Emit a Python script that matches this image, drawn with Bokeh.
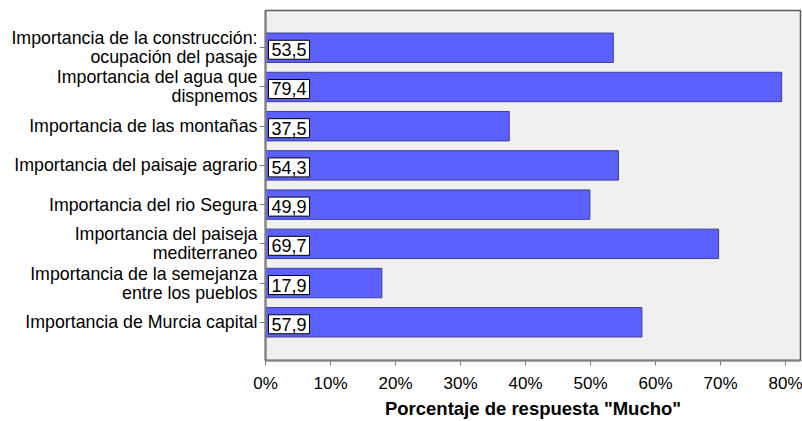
from bokeh.plotting import figure
from bokeh.models import Range1d, FixedTicker, ColumnDataSource
from bokeh.embed import file_html
from bokeh.resources import INLINE
from bokeh.core.properties import value

categories = [
    "Importancia de la construcción:\nocupación del pasaje",
    "Importancia del agua que\ndispnemos",
    "Importancia de las montañas",
    "Importancia del paisaje agrario",
    "Importancia del rio Segura",
    "Importancia del paiseja\nmediterraneo",
    "Importancia de la semejanza\nentre los pueblos",
    "Importancia de Murcia capital",
]
values = [53.5, 79.4, 37.5, 54.3, 49.9, 69.7, 17.9, 57.9]
x_ticks = [0, 10, 20, 30, 40, 50, 60, 70, 80]
x_tick_labels = ["0%", "10%", "20%", "30%", "40%", "50%", "60%", "70%", "80%"]
x_title = 'Porcentaje de respuesta "Mucho"'

positions = list(range(1, len(categories) + 1))
labels = [f"{v:.1f}".replace(".", ",") for v in values]

src = ColumnDataSource(dict(y=positions, v=values, lab=labels))

FONT = "Liberation Sans"

p = figure(width=802, height=421, output_backend="svg", toolbar_location=None,
           x_range=Range1d(0, 82.3), y_range=Range1d(8.975, 0.05),
           min_border_left=265, min_border_right=2, min_border_top=10, min_border_bottom=54)
p.background_fill_color = "#f0f0f0"
p.border_fill_color = "white"
p.outline_line_color = "#5a5a5a"
p.outline_line_width = 1.5
p.grid.visible = False

p.hbar(y="y", right="v", left=0, height=0.75, source=src,
       fill_color="#5c60ff", line_color="#3d3d99", line_width=1)

p.text(x=0, y="y", text="lab", source=src, text_align="left", text_baseline="middle",
       text_font=value(FONT), text_font_size="18px", text_color="black",
       x_offset=3, y_offset=2, background_fill_color="white", border_line_color="black",
       border_line_width=1, padding=3)

xa = p.xaxis[0]
xa.ticker = FixedTicker(ticks=x_ticks)
xa.major_label_overrides = {t: l for t, l in zip(x_ticks, x_tick_labels)}
xa.axis_label = x_title
xa.axis_label_text_font = FONT
xa.axis_label_text_font_style = "bold"
xa.axis_label_text_font_size = "18.5px"
xa.axis_label_text_color = "black"
xa.axis_label_standoff = 2
xa.major_label_text_font = FONT
xa.major_label_text_font_size = "17px"
xa.major_label_text_color = "black"
xa.major_label_standoff = 8
xa.axis_line_color = "#7f7f7f"
xa.axis_line_width = 2
xa.major_tick_line_color = "#7f7f7f"
xa.major_tick_out = 5
xa.major_tick_in = 0
xa.minor_tick_line_color = None

ya = p.yaxis[0]
ya.ticker = FixedTicker(ticks=positions)
ya.major_label_overrides = {t: l for t, l in zip(positions, categories)}
ya.major_label_text_font = FONT
ya.major_label_text_font_size = "17.8px"
ya.major_label_text_color = "black"
ya.major_label_text_line_height = 0.95
ya.major_label_standoff = 2
ya.axis_line_color = "#7f7f7f"
ya.axis_line_width = 2
ya.major_tick_line_color = "#7f7f7f"
ya.major_tick_out = 6
ya.major_tick_in = 0
ya.minor_tick_line_color = None

open("out.html", "w").write(file_html(p, INLINE))
